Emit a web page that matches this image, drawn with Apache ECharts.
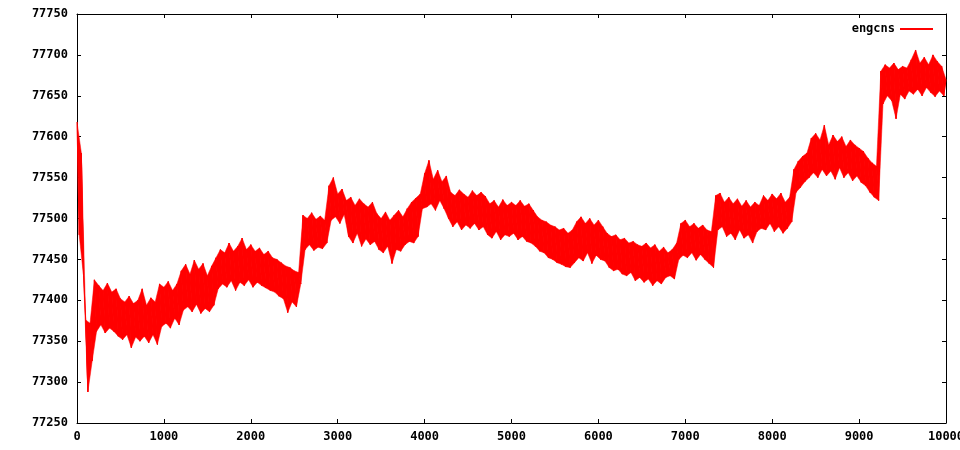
<!DOCTYPE html>
<html>
<head>
<meta charset="utf-8">
<script src="https://cdn.jsdelivr.net/npm/echarts@6/dist/echarts.min.js"></script>
<style>
  html, body { margin: 0; padding: 0; background: #fff; }
  #chart { width: 960px; height: 450px; }
</style>
</head>
<body>
<div id="chart"></div>
<script>
// one reading every 25 steps; readings alternate top / bottom of the noise band
const xStep = 25;
const xTicks = [0, 10000, 1000];
const yTicks = [77250, 77750, 50];
const seriesName = 'engcns';

// readings, x = 0 .. 10000
const engcns = [
  77618, 77480, 77580, 77430, 77376, 77288, 77372, 77326, 77425, 77362, 77418, 77370, 77412, 77360, 77421, 77366, 77410, 77362, 77414, 77356,
  77402, 77352, 77398, 77358, 77405, 77342, 77396, 77355, 77400, 77350, 77414, 77356, 77394, 77348, 77403, 77358, 77398, 77346, 77420, 77368,
  77416, 77372, 77423, 77366, 77412, 77378, 77420, 77370, 77436, 77388, 77444, 77392, 77432, 77386, 77449, 77395, 77438, 77384, 77445, 77390,
  77430, 77386, 77442, 77394, 77452, 77414, 77462, 77420, 77458, 77416, 77470, 77424, 77460, 77412, 77466, 77422, 77476, 77418, 77462, 77425,
  77468, 77416, 77460, 77422, 77464, 77418, 77456, 77415, 77460, 77412, 77452, 77410, 77450, 77405, 77446, 77402, 77442, 77385, 77440, 77398,
  77436, 77392, 77434, 77420, 77504, 77462, 77500, 77468, 77507, 77461, 77499, 77465, 77503, 77463, 77498, 77470, 77540, 77498, 77550, 77502,
  77530, 77494, 77536, 77505, 77522, 77478, 77526, 77470, 77516, 77482, 77524, 77466, 77518, 77475, 77514, 77468, 77520, 77472, 77506, 77462,
  77500, 77458, 77508, 77466, 77498, 77445, 77504, 77462, 77510, 77460, 77502, 77468, 77512, 77472, 77520, 77470, 77525, 77478, 77530, 77512,
  77555, 77514, 77571, 77518, 77548, 77510, 77559, 77522, 77545, 77512, 77552, 77500, 77532, 77490, 77528, 77496, 77535, 77486, 77530, 77492,
  77526, 77488, 77534, 77494, 77528, 77486, 77532, 77490, 77527, 77480, 77518, 77476, 77522, 77484, 77514, 77474, 77523, 77480, 77516, 77478,
  77520, 77482, 77516, 77474, 77522, 77478, 77515, 77472, 77518, 77470, 77510, 77466, 77502, 77460, 77498, 77458, 77496, 77452, 77492, 77450,
  77490, 77446, 77486, 77444, 77488, 77441, 77482, 77440, 77486, 77446, 77496, 77452, 77502, 77448, 77494, 77458, 77500, 77445, 77492, 77455,
  77498, 77450, 77490, 77448, 77482, 77440, 77478, 77436, 77480, 77438, 77474, 77432, 77476, 77430, 77470, 77434, 77472, 77424, 77468, 77428,
  77466, 77422, 77470, 77426, 77464, 77418, 77468, 77424, 77460, 77420, 77465, 77428, 77458, 77430, 77462, 77426, 77470, 77450, 77494, 77455,
  77498, 77452, 77490, 77458, 77494, 77449, 77488, 77456, 77492, 77450, 77486, 77445, 77484, 77440, 77528, 77486, 77531, 77490, 77520, 77478,
  77526, 77482, 77518, 77474, 77524, 77486, 77515, 77476, 77522, 77480, 77514, 77470, 77520, 77484, 77516, 77488, 77528, 77486, 77522, 77494,
  77530, 77484, 77524, 77490, 77531, 77482, 77520, 77488, 77526, 77496, 77560, 77532, 77570, 77538, 77576, 77545, 77580, 77550, 77598, 77556,
  77604, 77550, 77596, 77560, 77614, 77552, 77590, 77558, 77602, 77548, 77594, 77562, 77600, 77550, 77588, 77556, 77596, 77546, 77590, 77552,
  77586, 77544, 77582, 77540, 77574, 77532, 77568, 77526, 77564, 77522, 77680, 77640, 77688, 77650, 77684, 77644, 77690, 77622, 77682, 77652,
  77686, 77646, 77684, 77656, 77694, 77652, 77706, 77658, 77690, 77650, 77697, 77660, 77688, 77654, 77700, 77649, 77692, 77656, 77686, 77650,
  77670
];

const points = engcns.map((v, i) => [i * xStep, v]);
// top readings sit on even indices, bottom readings on odd ones
const upper = points.filter((p, i) => i % 2 === 0);
const lower = points.filter((p, i) => i % 2 === 1);

// one quad per step, between consecutive top and bottom readings
const band = [];
for (let k = 0; k < upper.length - 1; k++) {
  const lo0 = lower[k];
  const lo1 = lower[Math.min(k + 1, lower.length - 1)];
  band.push([upper[k][0], upper[k][1], upper[k + 1][0], upper[k + 1][1], lo1[0], lo1[1], lo0[0], lo0[1]]);
}

const font = { fontFamily: 'DejaVu Sans Mono', fontWeight: 'bold', fontSize: 12, color: '#000' };
const frame = { show: true, onZero: false, lineStyle: { color: '#000', width: 1 } };
const ticks = { show: true, inside: true, length: 4, lineStyle: { color: '#000' } };
const red = '#ff0000';

const chart = echarts.init(document.getElementById('chart'), null, { renderer: 'canvas' });

chart.setOption({
  animation: false,
  backgroundColor: '#fff',
  grid: { left: 77, right: 14, top: 14, bottom: 27, containLabel: false, outerBoundsMode: 'none' },
  legend: {
    data: [{ name: seriesName, icon: 'rect' }],
    right: 22,
    top: 18,
    align: 'right',
    itemWidth: 33,
    itemHeight: 2,
    textStyle: font
  },
  xAxis: [
    {
      type: 'value', position: 'bottom',
      min: xTicks[0], max: xTicks[1], interval: xTicks[2],
      axisLine: frame, axisTick: ticks, splitLine: { show: false },
      axisLabel: Object.assign({ margin: 8, formatter: v => String(v) }, font)
    },
    {
      type: 'value', position: 'top',
      min: xTicks[0], max: xTicks[1], interval: xTicks[2],
      axisLine: frame, axisTick: ticks, splitLine: { show: false },
      axisLabel: { show: false }
    }
  ],
  yAxis: [
    {
      type: 'value', position: 'left',
      min: yTicks[0], max: yTicks[1], interval: yTicks[2],
      axisLine: frame, axisTick: ticks, splitLine: { show: false },
      axisLabel: Object.assign({ margin: 9, formatter: v => String(v) }, font)
    },
    {
      type: 'value', position: 'right',
      min: yTicks[0], max: yTicks[1], interval: yTicks[2],
      axisLine: frame, axisTick: ticks, splitLine: { show: false },
      axisLabel: { show: false }
    }
  ],
  series: [
    {
      name: 'band',
      type: 'custom',
      silent: true,
      clip: true,
      encode: { x: [0, 2, 4, 6], y: [1, 3, 5, 7] },
      renderItem: function (params, api) {
        const pts = [];
        for (let j = 0; j < 8; j += 2) {
          pts.push(api.coord([api.value(j), api.value(j + 1)]));
        }
        return { type: 'polygon', shape: { points: pts }, style: { fill: red, stroke: red, lineWidth: 0.5 } };
      },
      data: band
    },
    {
      name: seriesName,
      type: 'line',
      symbol: 'none',
      sampling: null,
      lineStyle: { color: red, width: 1 },
      itemStyle: { color: red },
      data: points
    }
  ]
});
</script>
</body>
</html>
